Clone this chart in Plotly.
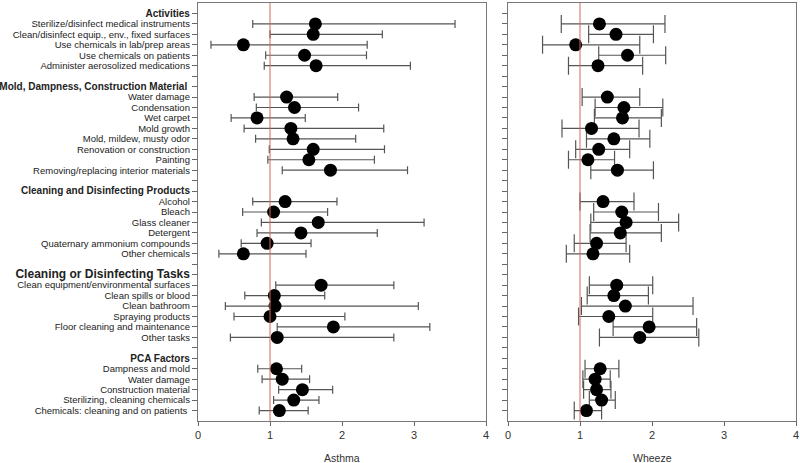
import plotly.graph_objects as go

categories = [
    "<b><span style='font-size:10px'>Activities</span></b>",
    "Sterilize/disinfect medical instruments",
    "Clean/disinfect equip., env., fixed surfaces",
    "Use chemicals in lab/prep areas",
    "Use chemicals on patients",
    "Administer aerosolized medications",
    "",
    "<b><span style='font-size:10px'>Mold, Dampness, Construction Material </span></b>",
    "Water damage",
    "Condensation",
    "Wet carpet",
    "Mold growth",
    "Mold, mildew, musty odor",
    "Renovation or construction",
    "Painting",
    "Removing/replacing interior materials",
    "",
    "<b><span style='font-size:10px'>Cleaning and Disinfecting Products</span></b>",
    "Alcohol",
    "Bleach",
    "Glass cleaner",
    "Detergent",
    "Quaternary ammonium compounds",
    "Other chemicals",
    "",
    "<b><span style='font-size:12px'>Cleaning or Disinfecting Tasks</span></b>",
    "Clean equipment/environmental surfaces",
    "Clean spills or blood",
    "Clean bathroom",
    "Spraying products",
    "Floor cleaning and maintenance",
    "Other tasks",
    "",
    "<b><span style='font-size:10px'>PCA Factors</span></b>",
    "Dampness and mold",
    "Water damage",
    "Construction material",
    "Sterilizing, cleaning chemicals",
    "Chemicals: cleaning and on patients ",
]

N = None
asthma_or = [N, 1.63, 1.60, 0.63, 1.48, 1.64, N,
             N, 1.23, 1.34, 0.82, 1.29, 1.32, 1.60, 1.54, 1.84, N,
             N, 1.21, 1.05, 1.67, 1.43, 0.96, 0.63, N,
             N, 1.71, 1.06, 1.07, 1.00, 1.88, 1.10, N,
             N, 1.09, 1.17, 1.45, 1.33, 1.13]
asthma_lo = [N, 0.76, 1.00, 0.18, 0.94, 0.92, N,
             N, 0.78, 0.81, 0.46, 0.64, 0.80, 0.99, 0.97, 1.17, N,
             N, 0.76, 0.62, 0.88, 0.82, 0.60, 0.29, N,
             N, 1.08, 0.65, 0.38, 0.50, 1.10, 0.45, N,
             N, 0.83, 0.89, 1.12, 1.05, 0.85]
asthma_hi = [N, 3.57, 2.56, 2.35, 2.34, 2.95, N,
             N, 1.94, 2.23, 1.49, 2.58, 2.19, 2.59, 2.45, 2.91, N,
             N, 1.93, 1.80, 3.14, 2.49, 1.57, 1.50, N,
             N, 2.72, 1.76, 3.06, 2.04, 3.22, 2.72, N,
             N, 1.44, 1.55, 1.87, 1.68, 1.53]

wheeze_or = [N, 1.27, 1.50, 0.94, 1.66, 1.25, N,
             N, 1.38, 1.61, 1.59, 1.16, 1.47, 1.26, 1.11, 1.52, N,
             N, 1.32, 1.58, 1.64, 1.56, 1.23, 1.18, N,
             N, 1.51, 1.47, 1.63, 1.40, 1.96, 1.83, N,
             N, 1.28, 1.21, 1.23, 1.30, 1.09]
wheeze_lo = [N, 0.74, 1.12, 0.48, 1.26, 0.84, N,
             N, 1.03, 1.21, 1.20, 0.75, 1.09, 0.94, 0.84, 1.15, N,
             N, 1.00, 1.19, 1.15, 1.14, 0.92, 0.81, N,
             N, 1.13, 1.10, 1.02, 0.98, 1.46, 1.27, N,
             N, 1.07, 1.04, 1.05, 1.13, 0.92]
wheeze_hi = [N, 2.18, 2.02, 1.83, 2.19, 1.87, N,
             N, 1.83, 2.15, 2.13, 1.82, 1.97, 1.69, 1.48, 2.02, N,
             N, 1.75, 2.09, 2.37, 2.13, 1.64, 1.69, N,
             N, 2.01, 1.95, 2.57, 2.01, 2.62, 2.65, N,
             N, 1.54, 1.42, 1.43, 1.49, 1.30]

x_ticks = [0, 1, 2, 3, 4]
ref_value = 1

rows = list(range(len(categories)))


def series(orv, lo, hi):
    ys, xs, plus, minus = [], [], [], []
    for i, (o, l, h) in enumerate(zip(orv, lo, hi)):
        if o is None:
            continue
        ys.append(i)
        xs.append(o)
        plus.append(h - o)
        minus.append(o - l)
    return xs, ys, plus, minus


fig = go.Figure()

for (orv, lo, hi, xa, ya, capw) in [
    (asthma_or, asthma_lo, asthma_hi, "x", "y", 4),
    (wheeze_or, wheeze_lo, wheeze_hi, "x2", "y2", 9),
]:
    xs, ys, plus, minus = series(orv, lo, hi)
    fig.add_trace(go.Scatter(
        x=xs, y=ys, mode="markers", xaxis=xa, yaxis=ya,
        marker=dict(color="black", size=13),
        error_x=dict(type="data", symmetric=False, array=plus, arrayminus=minus,
                     color="#555555", thickness=1.2, width=capw),
        showlegend=False,
    ))

for xr, yr in [("x", "y"), ("x2", "y2")]:
    fig.add_shape(type="line", xref=xr, yref=yr + " domain",
                  x0=ref_value, x1=ref_value, y0=0, y1=1,
                  line=dict(color="#cc6a5c", width=1))

axis_common = dict(showline=True, linecolor="#777777", linewidth=1.3, mirror=True,
                   automargin=False)
xcommon = dict(range=[0, 4], tickvals=x_ticks, ticks="outside", ticklen=4,
               tickcolor="#666666", showgrid=False, zeroline=False,
               tickfont=dict(family="Liberation Sans, Arial", size=11, color="#333333"),
               **axis_common)
ycommon = dict(range=[39, -1], tickvals=rows, ticks="outside", ticklen=5,
               tickcolor="#666666", showgrid=False, zeroline=False, **axis_common)

fig.update_layout(
    width=800, height=463,
    margin=dict(l=0, r=0, t=3, b=42),
    plot_bgcolor="white", paper_bgcolor="white",
    xaxis=dict(domain=[198 / 800, 486 / 800], anchor="y", **xcommon),
    xaxis2=dict(domain=[508 / 800, 796 / 800], anchor="y2", **xcommon),
    yaxis=dict(domain=[0, 1], anchor="x", ticktext=categories, showticklabels=True,
               tickfont=dict(family="Liberation Sans, Arial", size=9.5, color="#222222"),
               **ycommon),
    yaxis2=dict(domain=[0, 1], anchor="x2", showticklabels=False, **ycommon),
    annotations=[
        dict(text="Asthma", xref="paper", yref="paper", x=342 / 800, y=-0.0885,
             xanchor="center", yanchor="middle", showarrow=False,
             font=dict(family="Liberation Sans, Arial", size=10.5, color="#333333")),
        dict(text="Wheeze", xref="paper", yref="paper", x=652 / 800, y=-0.0885,
             xanchor="center", yanchor="middle", showarrow=False,
             font=dict(family="Liberation Sans, Arial", size=10.5, color="#333333")),
    ],
)

fig.write_html("out.html", config={"displayModeBar": False},
               post_script="document.body.style.margin='0';document.body.style.overflow='hidden';")
